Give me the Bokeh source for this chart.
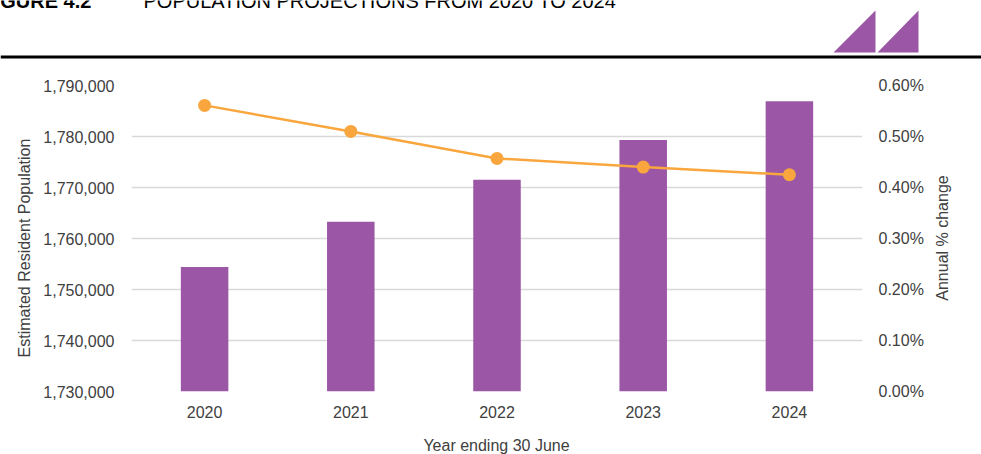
from bokeh.plotting import figure
from bokeh.models import (Range1d, FactorRange, LinearAxis, FixedTicker, NumeralTickFormatter,
                          PrintfTickFormatter)
from bokeh.layouts import column, row
from bokeh.core.properties import value
from bokeh.embed import file_html
from bokeh.resources import INLINE

# ---- data ----
years = ["2020", "2021", "2022", "2023", "2024"]
population = [1754400, 1763300, 1771500, 1779300, 1786900]
annual_change_pct = [0.561, 0.510, 0.457, 0.440, 0.425]
pop_ticks = [1730000, 1740000, 1750000, 1760000, 1770000, 1780000, 1790000]
pct_ticks = [0.0, 0.1, 0.2, 0.3, 0.4, 0.5, 0.6]
figure_label = "FIGURE 4.2"
title_text = "POPULATION PROJECTIONS FROM 2020 TO 2024"
y_title = "Estimated Resident Population"
y2_title = "Annual % change"
x_title = "Year ending 30 June"

FONT = "Liberation Sans"
TEXT = "#404040"
PURPLE = "#9B57A6"
ORANGE = "#F8A63D"
GRID = "#D9D9D9"

# ---- page layout (pixels) ----
W, H_HEAD, H = 981, 60, 454
H_FOOT = 22
LSIDE, RSIDE = 40, 51
FRAME_L, FRAME_R, FRAME_T, FRAME_B = 130, 862, 85, 391
MID_Y = H - H_FOOT


def panel(x0, x1, y0, y1):
    """a plain figure whose data coordinates are page pixels (y downwards)"""
    return figure(width=x1 - x0, height=y1 - y0, x_range=Range1d(x0, x1), y_range=Range1d(y1, y0),
                  output_backend="svg", toolbar_location=None, min_border=0,
                  x_axis_type=None, y_axis_type=None, outline_line_color=None)


# ---- header: title, rule and logo ----
head = panel(0, W, 0, H_HEAD)
head.text(x=[-18], y=[0], text=[figure_label], text_font=value(FONT), text_font_style="bold",
          text_font_size="20px", text_color="black", text_baseline="alphabetic")
head.text(x=[143], y=[0], text=[title_text], text_font=value(FONT), text_font_style="normal",
          text_font_size="20px", text_color="black", text_baseline="alphabetic")
head.segment(x0=[0], y0=[56.5], x1=[W], y1=[56.5], line_width=3, line_color="black")
head.patches(xs=[[833, 875, 875], [877, 918, 918]], ys=[[52, 52, 10], [52, 52, 10]],
             fill_color=PURPLE, line_color=None)

# ---- side panels holding the two rotated axis titles ----
lside = panel(0, LSIDE, H_HEAD, MID_Y)
lside.text(x=[23.5], y=[247.5], text=[y_title], angle=90, angle_units="deg",
           text_font=value(FONT), text_font_size="16px", text_color=TEXT,
           text_align="center", text_baseline="middle")
rside = panel(W - RSIDE, W, H_HEAD, MID_Y)
rside.text(x=[942], y=[237.5], text=[y2_title], angle=90, angle_units="deg",
           text_font=value(FONT), text_font_size="16px", text_color=TEXT,
           text_align="center", text_baseline="middle")

# ---- footer holding the x-axis title ----
foot = panel(0, W, MID_Y, H)
foot.text(x=[(FRAME_L + FRAME_R) / 2], y=[444.5], text=[x_title],
          text_font=value(FONT), text_font_size="16px", text_color=TEXT,
          text_align="center", text_baseline="middle")

# ---- main chart ----
p = figure(width=W - LSIDE - RSIDE, height=MID_Y - H_HEAD, x_range=FactorRange(*years),
           y_range=Range1d(pop_ticks[0], pop_ticks[-1]),
           output_backend="svg", toolbar_location=None,
           min_border_left=FRAME_L - LSIDE, min_border_right=W - RSIDE - FRAME_R,
           min_border_top=FRAME_T - H_HEAD, min_border_bottom=MID_Y - FRAME_B,
           outline_line_color=None)
p.extra_y_ranges = {"pct": Range1d(pct_ticks[0], pct_ticks[-1])}

for fig in (head, lside, rside, foot, p):
    if "frame_align" in fig.properties():
        fig.frame_align = False

p.vbar(x=years, top=population, bottom=pop_ticks[0], width=0.325, fill_color=PURPLE, line_color=None)
p.line(x=years, y=annual_change_pct, y_range_name="pct", line_color=ORANGE, line_width=2.5)
p.scatter(x=years, y=annual_change_pct, y_range_name="pct", size=13, fill_color=ORANGE, line_color=None)

right = LinearAxis(y_range_name="pct", ticker=FixedTicker(ticks=pct_ticks),
                   formatter=PrintfTickFormatter(format="%.2f%%"))
p.add_layout(right, "right")

left = p.left[0]
left.ticker = FixedTicker(ticks=pop_ticks)
left.formatter = NumeralTickFormatter(format="0,0")
bottom = p.below[0]

for ax in (left, right, bottom):
    ax.major_tick_out = 0
    ax.major_tick_in = 0
    ax.minor_tick_out = 0
    ax.minor_tick_in = 0
    ax.axis_line_color = None
    ax.major_label_text_font = FONT
    ax.major_label_text_font_size = "16px"
    ax.major_label_text_color = TEXT

left.major_label_standoff = 17
right.major_label_standoff = 16
bottom.major_label_standoff = 14

p.xgrid.visible = False
p.ygrid.ticker = FixedTicker(ticks=pop_ticks)
p.ygrid.grid_line_color = GRID
p.ygrid.grid_line_width = 1.5

layout = column(head, row(lside, p, rside, spacing=0), foot, spacing=0)

open("out.html", "w").write(file_html(layout, INLINE))
